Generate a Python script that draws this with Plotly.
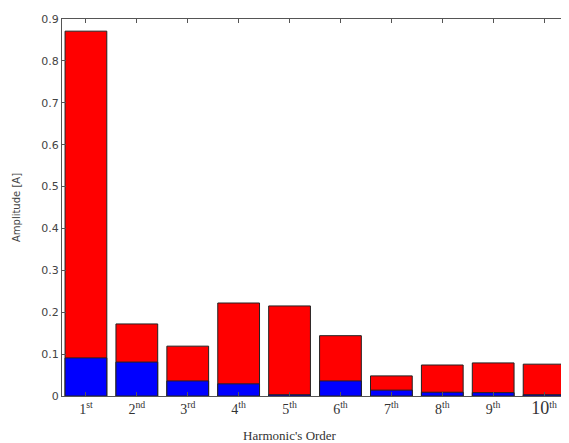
import plotly.graph_objects as go

orders = [1, 2, 3, 4, 5, 6, 7, 8, 9, 10]
tick_labels = ["1<sup>st</sup>", "2<sup>nd</sup>", "3<sup>rd</sup>", "4<sup>th</sup>", "5<sup>th</sup>",
               "6<sup>th</sup>", "7<sup>th</sup>", "8<sup>th</sup>", "9<sup>th</sup>",
               "<span style='font-size:18px'>10</span><sup>th</sup>"]
red_values = [0.871, 0.172, 0.119, 0.222, 0.215, 0.144, 0.048, 0.074, 0.079, 0.076]
blue_values = [0.091, 0.081, 0.036, 0.029, 0.003, 0.036, 0.014, 0.009, 0.008, 0.003]
x_title = "Harmonic's Order"
y_title = "Amplitude [A]"

fig = go.Figure()
fig.add_trace(go.Bar(x=orders, y=red_values, width=0.82,
                     marker=dict(color="#ff0000", line=dict(color="#222222", width=1)),
                     showlegend=False))
fig.add_trace(go.Bar(x=orders, y=blue_values, width=0.82,
                     marker=dict(color="#0000ff", line=dict(color="#222222", width=1)),
                     showlegend=False))

# page body has an 8px default margin, so the figure is sized to fit the window
fig.update_layout(
    width=561, height=435,
    barmode="overlay",
    margin=dict(l=54, r=2, t=11, b=47, autoexpand=False),
    plot_bgcolor="white", paper_bgcolor="white",
    xaxis=dict(range=[0.53, 10.45], tickvals=orders, ticktext=tick_labels, automargin=False,
               ticks="inside", ticklen=4, tickcolor="#555555",
               showline=True, linecolor="#555555", mirror="ticks", showgrid=False,
               tickfont=dict(family="Liberation Serif, Times New Roman, serif", size=14, color="#333333")),
    yaxis=dict(range=[0, 0.9], tickvals=[0, 0.1, 0.2, 0.3, 0.4, 0.5, 0.6, 0.7, 0.8, 0.9],
               ticktext=["0", "0.1", "0.2", "0.3", "0.4", "0.5", "0.6", "0.7", "0.8", "0.9"],
               automargin=False,
               ticks="inside", ticklen=4, tickcolor="#555555",
               showline=True, linecolor="#555555", mirror="ticks", showgrid=False, zeroline=False,
               tickfont=dict(family="DejaVu Sans, Arial, sans-serif", size=11, color="#444444"),
               title=dict(text=y_title, standoff=18,
                          font=dict(family="DejaVu Sans, Arial, sans-serif", size=10, color="#444444"))),
    annotations=[dict(text=x_title, xref="paper", yref="paper", x=0.452, y=0,
                      xanchor="center", yanchor="middle", yshift=-39, showarrow=False,
                      font=dict(family="Liberation Serif, Times New Roman, serif", size=13, color="#333333"))],
)

fig.write_html("out.html")
